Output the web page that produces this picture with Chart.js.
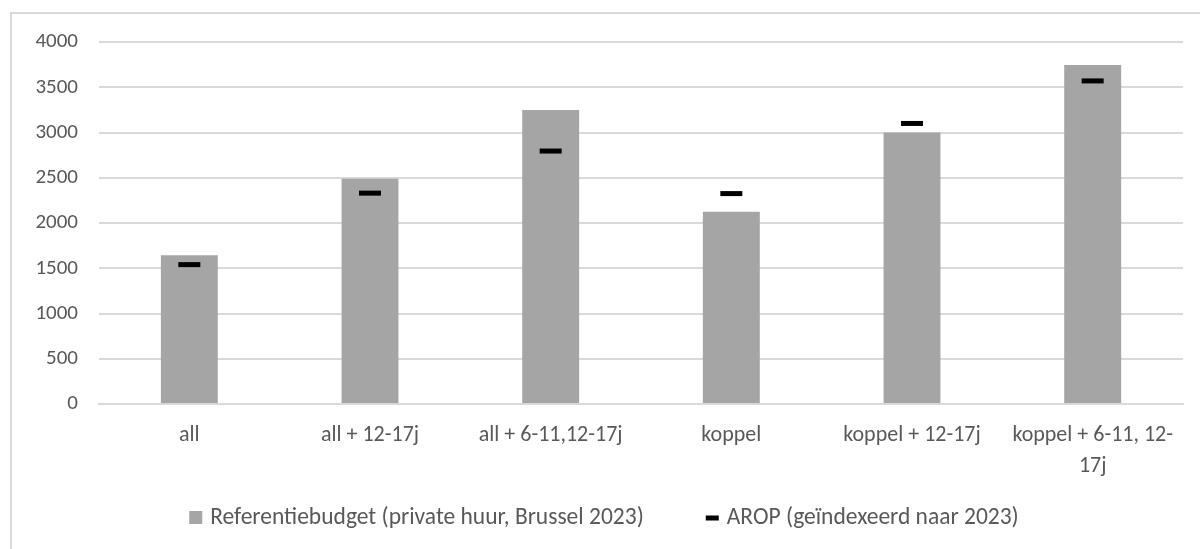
<!DOCTYPE html>
<html>
<head>
<meta charset="utf-8">
<script src="https://cdn.jsdelivr.net/npm/chart.js@4"></script>
<style>
  body { margin: 0; background: #fff; overflow: hidden; }
  #frame { position: absolute; left: 10px; top: 12px; width: 1220px; height: 600px; border: 2px solid #d9d9d9; }
  #wrap { position: absolute; left: 0; top: 0; width: 1200px; height: 549px; }
</style>
</head>
<body>
<div id="frame"></div>
<div id="wrap"><canvas id="budget"></canvas></div>
<script>
// categories (last one wraps on two lines, like the original)
var categories = ["all", "all + 12-17j", "all + 6-11,12-17j", "koppel", "koppel + 12-17j", ["koppel + 6-11, 12-", "17j"]];
var referentiebudget = [1645, 2490, 3250, 2125, 3000, 3745];
var arop = [1540, 2330, 2795, 2325, 3100, 3570];
var yTicks = [0, 500, 1000, 1500, 2000, 2500, 3000, 3500, 4000];

var fontFamily = "Calibri, Carlito, Lato, sans-serif";
var textColor = "#595959";

// excel-like legend: wide gap between the two entries
var bottomLegend = {
    id: "bottomLegend",
    afterDraw: function (chart) {
        var c = chart.ctx;
        var sets = chart.data.datasets;
        var gap = 62, markGap = 8, y = 518;
        c.save();
        c.font = "23.5px " + fontFamily;
        c.textBaseline = "middle";
        var w1 = c.measureText(sets[0].label).width;
        var w2 = c.measureText(sets[1].label).width;
        var total = 13 + markGap + w1 + gap + 13 + markGap + w2;
        var x = 604 - total / 2;
        c.fillStyle = sets[0].backgroundColor;
        c.fillRect(x, y - 7, 13, 13);
        c.fillStyle = textColor;
        c.fillText(sets[0].label, x + 13 + markGap, y);
        x += 13 + markGap + w1 + gap;
        c.fillStyle = sets[1].borderColor;
        c.fillRect(x, y - 2.5, 13, 5);
        c.fillStyle = textColor;
        c.fillText(sets[1].label, x + 13 + markGap, y);
        c.restore();
    },
};

var ctx = document.getElementById("budget");
new Chart(ctx, {
    type: "bar",
    data: {
        labels: categories,
        datasets: [
            {
                label: "Referentiebudget (private huur, Brussel 2023)",
                data: referentiebudget,
                backgroundColor: "#a5a5a5",
                borderWidth: 0,
                barPercentage: 0.5,
                categoryPercentage: 0.63,
                order: 2,
            },
            {
                type: "line",
                label: "AROP (geïndexeerd naar 2023)",
                data: arop,
                showLine: false,
                pointStyle: "line",
                pointRadius: 11,
                pointHoverRadius: 11,
                borderColor: "#000",
                borderWidth: 5,
                pointBorderWidth: 5,
                backgroundColor: "#000",
                order: 1,
            },
        ],
    },
    options: {
        responsive: true,
        maintainAspectRatio: false,
        animation: false,
        layout: {
            padding: { left: 0, right: 17, top: 42, bottom: 67 },
        },
        scales: {
            y: {
                min: 0,
                max: 4000,
                afterBuildTicks: function (scale) {
                    scale.ticks = yTicks.map(function (v) { return { value: v }; });
                },
                afterFit: function (scale) { scale.width = 99; },
                border: { display: false },
                grid: { color: "#d9d9d9", lineWidth: 2, drawTicks: false },
                ticks: {
                    padding: 21,
                    color: textColor,
                    font: { family: fontFamily, size: 21 },
                    callback: function (v) { return String(v); },
                },
            },
            x: {
                afterFit: function (scale) { scale.height = 78; },
                border: { color: "#d9d9d9", width: 2 },
                grid: { display: false, drawTicks: false },
                ticks: {
                    padding: 16,
                    maxRotation: 0,
                    autoSkip: false,
                    color: textColor,
                    font: { family: fontFamily, size: 22, lineHeight: 1.4 },
                },
            },
        },
        plugins: {
            tooltip: { enabled: false },
            legend: { display: false },
        },
    },
    plugins: [bottomLegend],
});
</script>
</body>
</html>
